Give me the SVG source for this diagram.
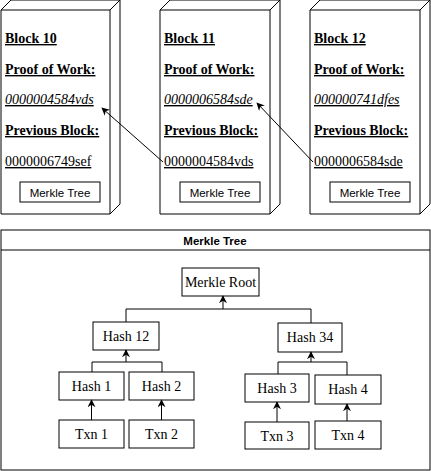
<svg xmlns="http://www.w3.org/2000/svg" width="431" height="471" viewBox="0 0 431 471">
<defs>
<style>
.box{fill:#fff;stroke:#000;stroke-width:1}
.edge{fill:none;stroke:#000;stroke-width:1}
.t{font-family:"Liberation Serif","Times New Roman",serif;font-size:14px;fill:#000}
.b{font-weight:bold;text-decoration:underline}
.i{font-style:italic;text-decoration:underline}
.u{text-decoration:underline}
.s{font-family:"Liberation Sans",Arial,sans-serif;font-size:11.5px;fill:#000;text-anchor:middle}
.c{text-anchor:middle}
</style>
<marker id="arr" viewBox="0 0 10 10" refX="9" refY="5" markerWidth="8" markerHeight="8" markerUnits="userSpaceOnUse" orient="auto">
<path d="M0,0 L10,5 L0,10 L3,5 Z" fill="#000"/>
</marker>
</defs>

<g id="block10">
<path class="box" d="M1,10 L11,0 L120,0 L120,204 L110,214 L1,214 Z"/>
<path class="edge" d="M1,10 L110,10 L120,0 M110,10 L110,214"/>
<text class="t b" x="5" y="43">Block 10</text>
<text class="t b" x="5" y="74">Proof of Work:</text>
<text class="t i" x="5" y="104">0000004584vds</text>
<text class="t b" x="5" y="135">Previous Block:</text>
<text class="t u" x="5" y="166">0000006749sef</text>
<rect class="box" x="20" y="182" width="80" height="20"/>
<text class="s" x="60" y="196.5">Merkle Tree</text>
</g>

<g id="block11">
<path class="box" d="M160,10 L170,0 L280,0 L280,204 L270,214 L160,214 Z"/>
<path class="edge" d="M160,10 L270,10 L280,0 M270,10 L270,214"/>
<text class="t b" x="164" y="43">Block 11</text>
<text class="t b" x="164" y="74">Proof of Work:</text>
<text class="t i" x="164" y="104">0000006584sde</text>
<text class="t b" x="164" y="135">Previous Block:</text>
<text class="t u" x="164" y="166">0000004584vds</text>
<rect class="box" x="180" y="182" width="80" height="20"/>
<text class="s" x="220" y="196.5">Merkle Tree</text>
</g>

<g id="block12">
<path class="box" d="M310,10 L320,0 L430,0 L430,204 L420,214 L310,214 Z"/>
<path class="edge" d="M310,10 L420,10 L430,0 M420,10 L420,214"/>
<text class="t b" x="314" y="43">Block 12</text>
<text class="t b" x="314" y="74">Proof of Work:</text>
<text class="t i" x="314" y="104">000000741dfes</text>
<text class="t b" x="314" y="135">Previous Block:</text>
<text class="t u" x="314" y="166">0000006584sde</text>
<rect class="box" x="330" y="182" width="80" height="20"/>
<text class="s" x="370" y="196.5">Merkle Tree</text>
</g>

<g id="merkle-container">
<rect class="box" x="1" y="230" width="429" height="240"/>
<line class="edge" x1="1" y1="250" x2="430" y2="250"/>
<text class="s" x="215" y="244.5" font-weight="bold">Merkle Tree</text>
</g>

<g id="merkle-root">
<rect class="box" x="182" y="268" width="77" height="28"/>
<text class="t c" x="220.5" y="287">Merkle Root</text>
</g>
<g id="hash12">
<rect class="box" x="93" y="322" width="66" height="28"/>
<text class="t c" x="126" y="341">Hash 12</text>
</g>
<g id="hash34">
<rect class="box" x="278" y="323" width="64" height="29"/>
<text class="t c" x="310" y="342">Hash 34</text>
</g>
<g id="hash1">
<rect class="box" x="59" y="372" width="65" height="28"/>
<text class="t c" x="91.5" y="391">Hash 1</text>
</g>
<g id="hash2">
<rect class="box" x="129" y="372" width="65" height="28"/>
<text class="t c" x="161.5" y="391">Hash 2</text>
</g>
<g id="hash3">
<rect class="box" x="245" y="374" width="64" height="28"/>
<text class="t c" x="277" y="393">Hash 3</text>
</g>
<g id="hash4">
<rect class="box" x="315" y="375" width="66" height="29"/>
<text class="t c" x="348" y="394">Hash 4</text>
</g>
<g id="txn1">
<rect class="box" x="59" y="420" width="65" height="28"/>
<text class="t c" x="91.5" y="439">Txn 1</text>
</g>
<g id="txn2">
<rect class="box" x="129" y="420" width="65" height="28"/>
<text class="t c" x="161.5" y="439">Txn 2</text>
</g>
<g id="txn3">
<rect class="box" x="245" y="422" width="64" height="27"/>
<text class="t c" x="277" y="440.5">Txn 3</text>
</g>
<g id="txn4">
<rect class="box" x="315" y="421" width="66" height="28"/>
<text class="t c" x="348" y="440">Txn 4</text>
</g>

<g id="connectors">
<line class="edge" x1="163" y1="162" x2="102" y2="108" marker-end="url(#arr)"/>
<line class="edge" x1="313" y1="162" x2="257" y2="103" marker-end="url(#arr)"/>

<path class="edge" d="M126,322 V309 H311 V323"/>
<line class="edge" x1="223" y1="309" x2="223" y2="296" marker-end="url(#arr)"/>

<path class="edge" d="M92,372 V362 H162 V372"/>
<line class="edge" x1="126" y1="362" x2="126" y2="350" marker-end="url(#arr)"/>

<path class="edge" d="M278,374 V362 H347 V375"/>
<line class="edge" x1="311" y1="362" x2="311" y2="352" marker-end="url(#arr)"/>

<line class="edge" x1="91.5" y1="420" x2="91.5" y2="400" marker-end="url(#arr)"/>
<line class="edge" x1="161.5" y1="420" x2="161.5" y2="400" marker-end="url(#arr)"/>
<line class="edge" x1="277" y1="422" x2="277" y2="402" marker-end="url(#arr)"/>
<line class="edge" x1="347" y1="421" x2="347" y2="404" marker-end="url(#arr)"/>
</g>
</svg>
